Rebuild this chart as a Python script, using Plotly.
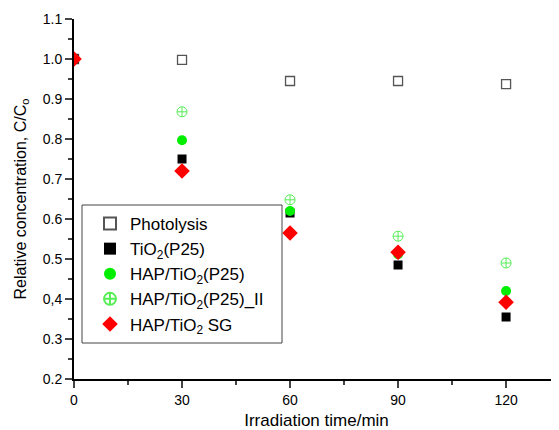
import plotly.graph_objects as go

time_min = [0, 30, 60, 90, 120]
photolysis = [1.0, 0.998, 0.945, 0.945, 0.937]
tio2_p25 = [1.0, 0.75, 0.615, 0.485, 0.355]
hap_tio2_p25 = [1.0, 0.797, 0.62, 0.512, 0.42]
hap_tio2_p25_ii = [1.0, 0.868, 0.648, 0.557, 0.49]
hap_tio2_sg = [1.0, 0.72, 0.565, 0.517, 0.392]

y_tickvals = [0.2, 0.3, 0.4, 0.5, 0.6, 0.7, 0.8, 0.9, 1.0, 1.1]
y_ticktext = ["0.2", "0.3", "0,4", "0.5", "0.6", "0.7", "0.8", "0.9", "1.0", "1.1"]
x_tickvals = [0, 30, 60, 90, 120]

font = "Liberation Sans, Arial, sans-serif"

# page has an 8px body margin: figure drawn at offset (8, 8)
W, H = 551, 422
L, R, T, B = 66, 0, 11, 51
pw, ph = W - L - R, H - T - B

fig = go.Figure()
series = [
    ("Photolysis", photolysis, dict(symbol="square-open", size=9, color="#555555", line=dict(width=1.3, color="#555555"))),
    ("TiO<sub>2</sub>(P25)", tio2_p25, dict(symbol="square", size=9, color="black")),
    ("HAP/TiO<sub>2</sub>(P25)", hap_tio2_p25, dict(symbol="circle", size=10, color="#00ee00")),
    ("HAP/TiO<sub>2</sub>(P25)_II", hap_tio2_p25_ii, dict(symbol="circle-cross-open", size=10, color="#55ee55", line=dict(width=1, color="#55ee55"))),
    ("HAP/TiO<sub>2</sub> SG", hap_tio2_sg, dict(symbol="diamond", size=12, color="#ff0000")),
]
for name, vals, marker in series:
    fig.add_trace(go.Scatter(x=time_min, y=vals, mode="markers", name=name, marker=marker))

# legend frame in target pixels (page coords) -> paper coords
def px(xp):
    return (xp - 8 - L) / pw
def py(yp):
    return 1 - (yp - 8 - T) / ph

fig.add_shape(type="rect", xref="paper", yref="paper",
              x0=px(82), x1=px(282), y0=py(343), y1=py(205),
              line=dict(color="#444444", width=1), fillcolor="rgba(0,0,0,0)", layer="above")

fig.update_layout(
    width=W, height=H,
    margin=dict(l=L, r=R, t=T, b=B, autoexpand=False),
    plot_bgcolor="white", paper_bgcolor="white",
    font=dict(family=font, size=14, color="black"),
    showlegend=True,
    legend=dict(
        x=px(90), y=py(206), xanchor="left", yanchor="top",
        borderwidth=0, bgcolor="rgba(255,255,255,0)",
        font=dict(size=17, family=font),
        itemsizing="constant",
        tracegroupgap=0,
    ),
)
fig.update_xaxes(
    range=[0, 134.7], tickvals=x_tickvals, ticks="outside", ticklen=7, tickwidth=2,
    showline=True, linewidth=2, linecolor="black", showgrid=False, zeroline=False,
    minor=dict(ticks="outside", ticklen=4, tickwidth=2, dtick=15, tick0=0, showgrid=False),
    title=dict(text="Irradiation time/min", font=dict(size=17), standoff=8),
    tickfont=dict(size=14), automargin=False,
)
fig.update_yaxes(
    range=[0.2, 1.1], tickvals=y_tickvals, ticktext=y_ticktext, ticks="outside", ticklen=7, tickwidth=2,
    showline=True, linewidth=2, linecolor="black", showgrid=False, zeroline=False,
    minor=dict(ticks="outside", ticklen=4, tickwidth=2, dtick=0.05, tick0=0.2, showgrid=False),
    title=dict(text="Relative concentration, C/C<sub>o</sub>", font=dict(size=16), standoff=12),
    tickfont=dict(size=14), automargin=False,
)

fig.write_html("out.html")
